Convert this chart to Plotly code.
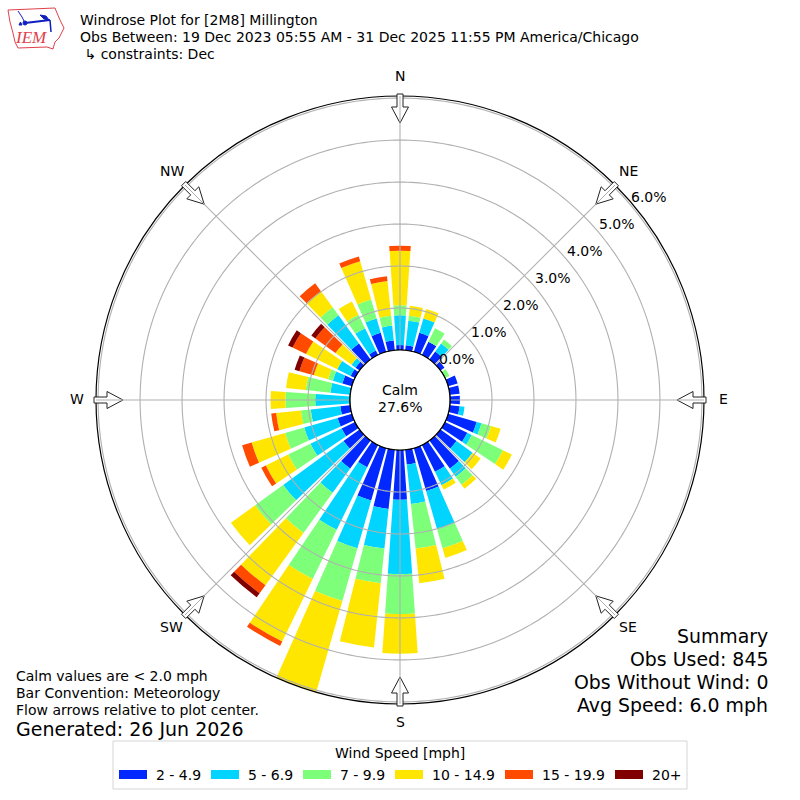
import math
import plotly.graph_objects as go

FONT = "DejaVu Sans"
OBS_TOTAL = 845
directions = list(range(0, 360, 10))
# observation counts per direction, one list per speed class
speed_labels = ["2 - 4.9", "5 - 6.9", "7 - 9.9", "10 - 14.9", "15 - 19.9", "20+"]
speed_colors = ["#0028FF", "#00D4FF", "#7DFF7A", "#FFE600", "#FF4A00", "#800000"]
#            0  10 20 30 40 50 60 70 80 90 100 110 120 130 140 150 160 170 180 190 200 210 220 230 240 250 260 270 280 290 300 310 320 330 340 350
speed_2_5 = [1, 1, 4, 3, 2, 1, 0, 2, 2, 2, 2, 6, 5, 4, 7, 6, 9, 3, 10, 12, 11, 5, 7, 4, 3, 3, 2, 0, 0, 2, 1, 1, 4, 1, 4, 2]
speed_5_7 = [6, 5, 3, 0, 2, 0, 0, 0, 0, 0, 1, 1, 1, 4, 2, 3, 8, 8, 15, 8, 10, 14, 6, 15, 7, 7, 6, 7, 4, 2, 3, 1, 7, 5, 3, 3]
speed_7_10 = [2, 1, 0, 3, 1, 0, 1, 0, 0, 0, 0, 2, 7, 0, 2, 0, 4, 9, 8, 7, 11, 11, 10, 7, 5, 4, 2, 6, 5, 1, 0, 0, 2, 3, 4, 2]
speed_10_15 = [11, 2, 2, 0, 0, 0, 0, 0, 0, 0, 0, 2, 2, 2, 1, 1, 2, 7, 8, 13, 19, 14, 13, 6, 5, 7, 5, 3, 4, 3, 7, 4, 4, 3, 8, 7]
speed_15_20 = [1, 0, 0, 0, 0, 0, 0, 0, 0, 0, 0, 0, 0, 0, 0, 0, 0, 0, 0, 0, 0, 1, 2, 0, 1, 2, 1, 0, 0, 3, 3, 5, 2, 0, 1, 1]
speed_20_up = [0, 0, 0, 0, 0, 0, 0, 0, 0, 0, 0, 0, 0, 0, 0, 0, 0, 0, 0, 0, 0, 0, 1, 0, 0, 0, 0, 0, 0, 1, 1, 1, 0, 0, 0, 0]
speed_series = [speed_2_5, speed_5_7, speed_7_10, speed_10_15, speed_15_20, speed_20_up]

radial_ticks = [0, 1, 2, 3, 4, 5, 6]
radial_tick_text = ["0.0%", "1.0%", "2.0%", "3.0%", "4.0%", "5.0%", "6.0%"]
compass_angles = [0, 45, 90, 135, 180, 225, 270, 315]
compass_names = ["N", "NE", "E", "SE", "S", "SW", "W", "NW"]
RMAX = 6.05
GRID = "#b0b0b0"

title_lines = ["Windrose Plot for [2M8] Millington",
               "Obs Between: 19 Dec 2023 05:55 AM - 31 Dec 2025 11:55 PM America/Chicago",
               " ↳ constraints: Dec"]
summary_lines = ["Summary", "Obs Used: 845", "Obs Without Wind: 0", "Avg Speed: 6.0 mph"]
note_lines = ["Calm values are < 2.0 mph", "Bar Convention: Meteorology", "Flow arrows relative to plot center."]


def X(x):
    return x / 800


def Y(y):
    return 1 - y / 800


def txt(x, y, s, size=14, anchor="left", color="#000", family=FONT, italic=False):
    return dict(x=X(x), y=Y(y), xref="paper", yref="paper", text=f"<i>{s}</i>" if italic else s, showarrow=False,
                xanchor=anchor, yanchor="middle", align=anchor, borderpad=0, borderwidth=0,
                font=dict(family=family, size=size, color=color))


def path(points, close=True):
    d = "M " + " L ".join(f"{X(px):.5f} {Y(py):.5f}" for px, py in points)
    return d + (" Z" if close else "")


fig = go.Figure()
for name, color, counts in zip(speed_labels, speed_colors, speed_series):
    fig.add_trace(go.Barpolar(r=[c / OBS_TOTAL * 100 for c in counts], theta=directions, width=8, name=name,
                              marker=dict(color=color, line=dict(width=0)), showlegend=False, hoverinfo="skip"))

# grid sits on top of the bars in the reference, so it is drawn as traces
for tick in radial_ticks[1:]:
    fig.add_trace(go.Scatterpolar(r=[tick] * 361, theta=list(range(361)), mode="lines",
                                  line=dict(color=GRID, width=1.1), showlegend=False, hoverinfo="skip"))
for ang in compass_angles:
    fig.add_trace(go.Scatterpolar(r=[0, RMAX], theta=[ang, ang], mode="lines",
                                  line=dict(color=GRID, width=1.1), showlegend=False, hoverinfo="skip"))

cx, cy, R = 400, 400, 304
shapes = []
# hole outline
shapes.append(dict(type="circle", xref="paper", yref="paper", x0=X(cx - 50), x1=X(cx + 50), y0=Y(cy + 50), y1=Y(cy - 50),
                   line=dict(color="black", width=1.2), fillcolor="white", layer="above"))


def arrow(a):
    t = math.radians(a)
    ux, uy = math.sin(t), -math.cos(t)
    vx, vy = math.cos(t), math.sin(t)
    shape = [(306, 3), (293, 3), (293, 8.5), (277, 0), (293, -8.5), (293, -3), (306, -3)]
    return [(cx + ux * r + vx * w, cy + uy * r + vy * w) for r, w in shape]


for ang in compass_angles:
    shapes.append(dict(type="path", xref="paper", yref="paper", path=path(arrow(ang)),
                       line=dict(color="#222", width=1), fillcolor="white", layer="above"))
    # the grid line shows through the arrow
    t = math.radians(ang)
    shapes.append(dict(type="line", xref="paper", yref="paper",
                       x0=X(cx + 277 * math.sin(t)), y0=Y(cy - 277 * math.cos(t)),
                       x1=X(cx + 304 * math.sin(t)), y1=Y(cy - 304 * math.cos(t)),
                       line=dict(color=GRID, width=1), layer="above"))

# legend box
shapes.append(dict(type="rect", xref="paper", yref="paper", x0=X(113), x1=X(687), y0=Y(789), y1=Y(741),
                   line=dict(color="#d5d5d5", width=1), fillcolor="white"))
legend_x = [119, 211, 303, 395, 505, 615]
legend_text_x = [156, 248, 340, 432, 542, 652]
for lx, c in zip(legend_x, speed_colors):
    shapes.append(dict(type="rect", xref="paper", yref="paper", x0=X(lx), x1=X(lx + 28), y0=Y(779), y1=Y(770),
                       line=dict(width=0), fillcolor=c))

# IEM logo
RED = "#e0404a"
NAVY = "#1020c0"
iowa = [(8, 10), (55, 8), (57, 13), (60, 20), (64, 28), (59, 38), (55, 42), (53, 49), (47, 47), (18, 48), (15, 42), (13, 33), (10, 22)]
shapes.append(dict(type="path", xref="paper", yref="paper", path=path(iowa), line=dict(color=RED, width=1), fillcolor="white"))
shapes.append(dict(type="path", xref="paper", yref="paper", path=path([(25, 23), (50, 20)], False), line=dict(color=NAVY, width=2)))
shapes.append(dict(type="path", xref="paper", yref="paper", path=path([(40, 15), (46, 16), (49, 20), (44, 19)]), line=dict(color=NAVY, width=1), fillcolor=NAVY))
shapes.append(dict(type="path", xref="paper", yref="paper", path=path([(18, 11), (22, 17), (25, 23)], False), line=dict(color=NAVY, width=1)))
shapes.append(dict(type="path", xref="paper", yref="paper", path=path([(50, 20), (51, 32)], False), line=dict(color=NAVY, width=1.5)))
shapes.append(dict(type="path", xref="paper", yref="paper", path=path([(19, 25), (22, 25), (20.5, 22)]), line=dict(color=NAVY, width=1), fillcolor=NAVY))
shapes.append(dict(type="circle", xref="paper", yref="paper", x0=X(23), x1=X(27), y0=Y(25), y1=Y(21), line=dict(color=NAVY, width=1), fillcolor=NAVY))

ann = []
for i, line in enumerate(title_lines):
    ann.append(txt(80, 20 + i * 17, line.replace(" ", "&nbsp;", 1) if line.startswith(" ") else line))
ann.append(txt(30.5, 38, "IEM", size=17, family="Liberation Serif", color=RED, anchor="center", italic=True))
for y, line in zip([636, 659, 682, 705], summary_lines):
    ann.append(txt(768, y, line, size=18.9, anchor="right"))
for y, line in zip([676, 693, 710], note_lines):
    ann.append(txt(16, y, line))
ann.append(txt(16, 729, "Generated: 26 Jun 2026", size=19))
ann.append(txt(400, 390, "Calm", anchor="center"))
ann.append(txt(400, 407, "27.6%", anchor="center"))
ann.append(txt(400, 753, "Wind Speed [mph]", anchor="center"))
for lx, s in zip(legend_text_x, speed_labels):
    ann.append(txt(lx, 775, s))
# radial tick labels run along a slanted line, compass names just outside the rim
for tick, s in zip(radial_ticks, radial_tick_text):
    ann.append(txt(457 + 32 * tick, 359 - 27 * tick, s, anchor="center"))
for a, s in zip(compass_angles, compass_names):
    t = math.radians(a)
    ann.append(txt(cx + 323 * math.sin(t), cy - 1 - 323 * math.cos(t), s, anchor="center"))

fig.update_layout(
    width=800, height=800, autosize=False, margin=dict(l=0, r=0, t=0, b=0),
    paper_bgcolor="white", font=dict(family=FONT, size=14, color="black"),
    shapes=shapes, annotations=ann,
    polar=dict(
        domain=dict(x=[X(cx - R), X(cx + R)], y=[Y(cy + R), Y(cy - R)]),
        barmode="stack", hole=50 / R, bgcolor="white",
        radialaxis=dict(range=[0, RMAX], tickvals=radial_ticks, showticklabels=False,
                        showgrid=False, showline=False, ticks=""),
        angularaxis=dict(direction="clockwise", rotation=90, tickvals=compass_angles, showticklabels=False,
                         showgrid=False, showline=True, linecolor="black", linewidth=1.2, ticks=""),
    ),
)
fig.write_html("out.html", config=dict(displayModeBar=False), post_script="document.body.style.margin='0';")
